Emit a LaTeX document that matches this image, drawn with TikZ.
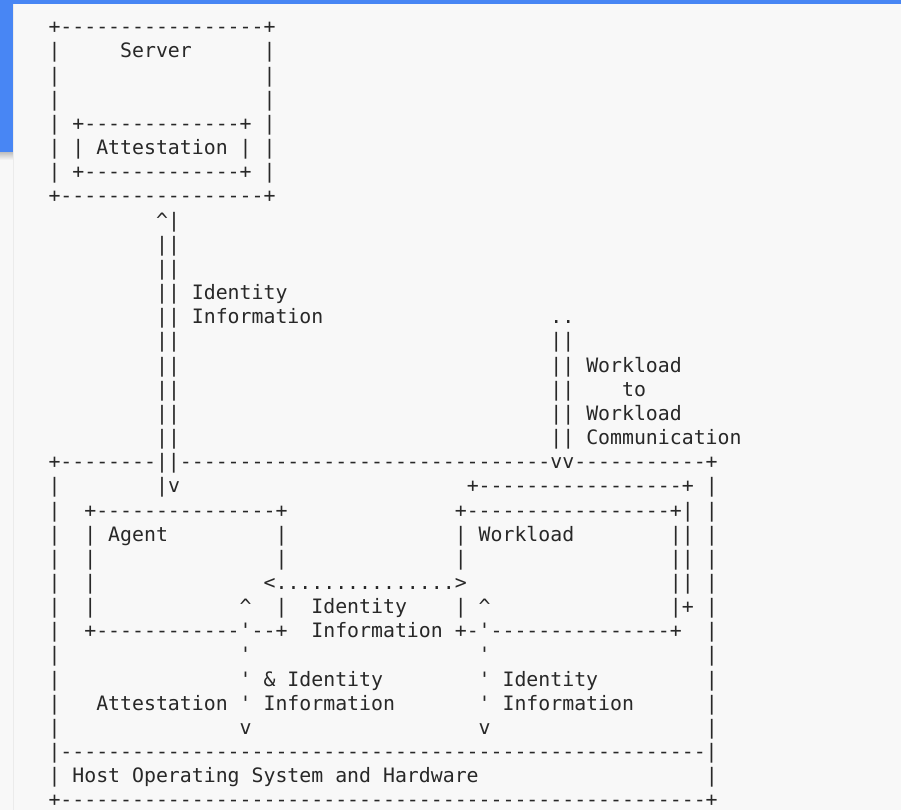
\documentclass[tikz,border=0pt]{standalone}
\usepackage{fontspec}
\setmonofont{DejaVu Sans Mono}
\ExplSyntaxOn
\cs_new:Npn \Dsh #1 {\prg_replicate:nn {#1} {-}}
\cs_new:Npn \Dts #1 {\prg_replicate:nn {#1} {.}}
\ExplSyntaxOff
\definecolor{bg}{RGB}{248,248,248}
\definecolor{ink}{RGB}{40,40,40}
\definecolor{topblue}{RGB}{72,134,244}
\newcommand\putrow[3]{\node[txt] (t#1-#2) at ({48.5+#2*11.95},{33.8+#1*24.16}) {#3};}
\newcommand\qs{\textquotesingle}
\newcommand\up{\textasciicircum}
\begin{document}
\begin{tikzpicture}[x=0.75pt,y=-0.75pt,
  txt/.style={anchor=base west,inner sep=0pt,outer sep=0pt,text=ink,
    font=\ttfamily\fontsize{14.887pt}{18pt}\selectfont}]
\useasboundingbox (0,0) rectangle (901,810);
\fill[bg] (0,0) rectangle (901,810);
\fill[topblue] (0,0) rectangle (901,4);
\fill[topblue] (0,0) rectangle (13,152);
\shade[top color=black!25,bottom color=bg] (0,152) rectangle (13,160);
\draw[black!8,line width=0.8] (13.5,4) -- (13.5,810);
% server box
\putrow{0}{0}{+\Dsh{17}+}
\putrow{1}{0}{|}\putrow{1}{6}{Server}\putrow{1}{18}{|}
\putrow{2}{0}{|}\putrow{2}{18}{|}
\putrow{3}{0}{|}\putrow{3}{18}{|}
\putrow{4}{0}{|}\putrow{4}{2}{+\Dsh{13}+}\putrow{4}{18}{|}
\putrow{5}{0}{|}\putrow{5}{2}{| Attestation |}\putrow{5}{18}{|}
\putrow{6}{0}{|}\putrow{6}{2}{+\Dsh{13}+}\putrow{6}{18}{|}
\putrow{7}{0}{+\Dsh{17}+}
% vertical connector
\putrow{8}{9}{\up|}
\putrow{9}{9}{||}
\putrow{10}{9}{||}
\putrow{11}{9}{||}\putrow{11}{12}{Identity}
\putrow{12}{9}{||}\putrow{12}{12}{Information}\putrow{12}{42}{..}
\putrow{13}{9}{||}\putrow{13}{42}{||}
\putrow{14}{9}{||}\putrow{14}{42}{||}\putrow{14}{45}{Workload}
\putrow{15}{9}{||}\putrow{15}{42}{||}\putrow{15}{48}{to}
\putrow{16}{9}{||}\putrow{16}{42}{||}\putrow{16}{45}{Workload}
\putrow{17}{9}{||}\putrow{17}{42}{||}\putrow{17}{45}{Communication}
% host box
\putrow{18}{0}{+\Dsh{8}||\Dsh{31}vv\Dsh{11}+}
\putrow{19}{0}{|}\putrow{19}{9}{|v}\putrow{19}{35}{+\Dsh{17}+}\putrow{19}{55}{|}
\putrow{20}{0}{|}\putrow{20}{3}{+\Dsh{15}+}\putrow{20}{34}{+\Dsh{17}+|}\putrow{20}{55}{|}
\putrow{21}{0}{|}\putrow{21}{3}{| Agent}\putrow{21}{19}{|}\putrow{21}{34}{| Workload}\putrow{21}{52}{||}\putrow{21}{55}{|}
\putrow{22}{0}{|}\putrow{22}{3}{|}\putrow{22}{19}{|}\putrow{22}{34}{|}\putrow{22}{52}{||}\putrow{22}{55}{|}
\putrow{23}{0}{|}\putrow{23}{3}{|}\putrow{23}{18}{<\Dts{15}>}\putrow{23}{52}{||}\putrow{23}{55}{|}
\putrow{24}{0}{|}\putrow{24}{3}{|}\putrow{24}{16}{\up}\putrow{24}{19}{|}\putrow{24}{22}{Identity}\putrow{24}{34}{|}\putrow{24}{36}{\up}\putrow{24}{52}{|+}\putrow{24}{55}{|}
\putrow{25}{0}{|}\putrow{25}{3}{+\Dsh{12}\qs\Dsh{2}+}\putrow{25}{22}{Information}\putrow{25}{34}{+-\qs\Dsh{15}+}\putrow{25}{55}{|}
\putrow{26}{0}{|}\putrow{26}{16}{\qs}\putrow{26}{36}{\qs}\putrow{26}{55}{|}
\putrow{27}{0}{|}\putrow{27}{16}{\qs{} \& Identity}\putrow{27}{36}{\qs{} Identity}\putrow{27}{55}{|}
\putrow{28}{0}{|}\putrow{28}{4}{Attestation \qs{} Information}\putrow{28}{36}{\qs{} Information}\putrow{28}{55}{|}
\putrow{29}{0}{|}\putrow{29}{16}{v}\putrow{29}{36}{v}\putrow{29}{55}{|}
\putrow{30}{0}{|\Dsh{54}|}
\putrow{31}{0}{| Host Operating System and Hardware}\putrow{31}{55}{|}
\putrow{32}{0}{+\Dsh{54}+}
\end{tikzpicture}
\end{document}
